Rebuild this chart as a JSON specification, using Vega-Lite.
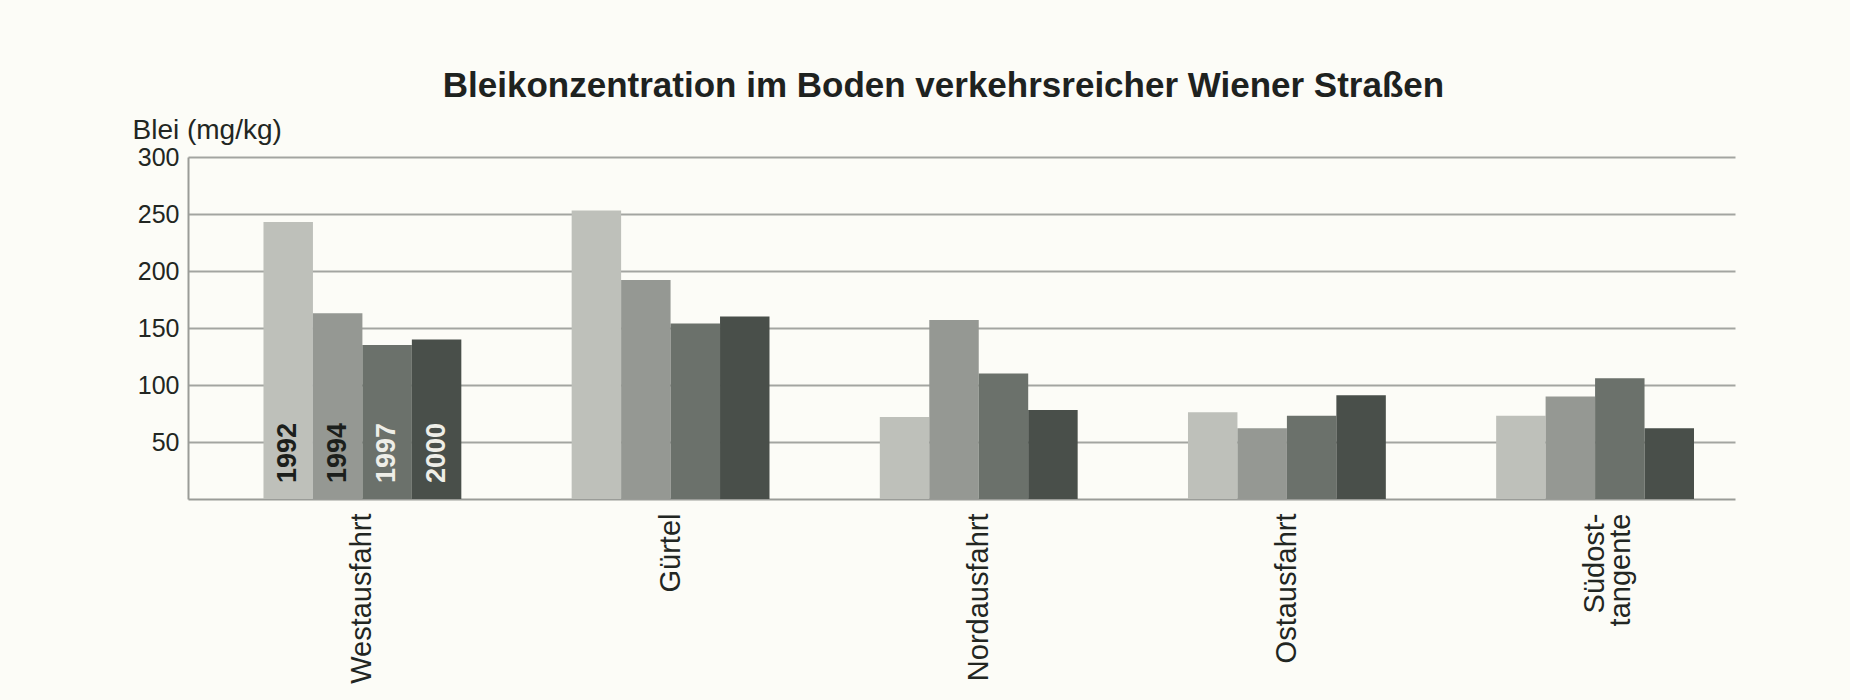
{
  "$schema": "https://vega.github.io/schema/vega-lite/v6.json",
  "width": 1547,
  "height": 342,
  "autosize": {"type": "none"},
  "padding": {"left": 188, "top": 157, "right": 115, "bottom": 201},
  "background": "#fcfcf7",
  "title": {
    "text": "Bleikonzentration im Boden verkehrsreicher Wiener Straßen",
    "font": "Liberation Sans",
    "fontSize": 35,
    "fontWeight": "bold",
    "color": "#1e221f",
    "anchor": "middle",
    "frame": "group",
    "dx": -18,
    "offset": 12
  },
  "data": {
    "values": [
      {"street": "Westausfahrt", "year": "1992", "lead": 243},
      {"street": "Westausfahrt", "year": "1994", "lead": 163},
      {"street": "Westausfahrt", "year": "1997", "lead": 135},
      {"street": "Westausfahrt", "year": "2000", "lead": 140},
      {"street": "Gürtel", "year": "1992", "lead": 253},
      {"street": "Gürtel", "year": "1994", "lead": 192},
      {"street": "Gürtel", "year": "1997", "lead": 154},
      {"street": "Gürtel", "year": "2000", "lead": 160},
      {"street": "Nordausfahrt", "year": "1992", "lead": 72},
      {"street": "Nordausfahrt", "year": "1994", "lead": 157},
      {"street": "Nordausfahrt", "year": "1997", "lead": 110},
      {"street": "Nordausfahrt", "year": "2000", "lead": 78},
      {"street": "Ostausfahrt", "year": "1992", "lead": 76},
      {"street": "Ostausfahrt", "year": "1994", "lead": 62},
      {"street": "Ostausfahrt", "year": "1997", "lead": 73},
      {"street": "Ostausfahrt", "year": "2000", "lead": 91},
      {"street": "Südost-\ntangente", "year": "1992", "lead": 73},
      {"street": "Südost-\ntangente", "year": "1994", "lead": 90},
      {"street": "Südost-\ntangente", "year": "1997", "lead": 106},
      {"street": "Südost-\ntangente", "year": "2000", "lead": 62}
    ]
  },
  "encoding": {
    "x": {
      "field": "street",
      "type": "nominal",
      "sort": null,
      "scale": {"paddingInner": 0.358, "paddingOuter": 0.189, "align": 0.648},
      "axis": {
        "title": null,
        "labelAngle": -90,
        "labelFont": "Liberation Sans",
        "labelFontSize": 29,
        "labelColor": "#222622",
        "labelPadding": 14,
        "labelLineHeight": 26,
        "labelExpr": "split(datum.label, '\\n')",
        "ticks": false,
        "domainColor": "#9a9c98",
        "domainWidth": 2,
        "labelOverlap": false
      }
    },
    "xOffset": {"field": "year", "type": "nominal", "scale": {"paddingInner": 0, "paddingOuter": 0}},
    "y": {
      "field": "lead",
      "type": "quantitative",
      "scale": {"domain": [0, 300], "nice": false},
      "axis": {
        "values": [50, 100, 150, 200, 250, 300],
        "title": "Blei (mg/kg)",
        "titleAngle": 0,
        "titleX": -56,
        "titleY": -19,
        "titleAlign": "left",
        "titleBaseline": "alphabetic",
        "titleFont": "Liberation Sans",
        "titleFontSize": 28,
        "titleFontWeight": "normal",
        "titleColor": "#222622",
        "labelFont": "Liberation Sans",
        "labelFontSize": 25,
        "labelColor": "#222622",
        "labelPadding": 9,
        "ticks": false,
        "gridColor": "#a3a5a1",
        "gridWidth": 2,
        "gridOpacity": 1,
        "domainColor": "#9a9c98",
        "domainWidth": 2
      }
    }
  },
  "layer": [
    {
      "mark": {"type": "bar"},
      "encoding": {
        "color": {
          "field": "year",
          "type": "nominal",
          "scale": {"domain": ["1992", "1994", "1997", "2000"], "range": ["#bec0ba", "#959893", "#6b716b", "#494f4a"]},
          "legend": null
        }
      }
    },
    {
      "transform": [{"filter": "datum.street == 'Westausfahrt'"}],
      "mark": {"type": "text", "angle": 270, "align": "left", "baseline": "middle", "dx": 16, "font": "Liberation Sans", "fontSize": 27, "fontWeight": "bold"},
      "encoding": {
        "y": {"datum": 0},
        "text": {"field": "year"},
        "color": {"condition": {"test": "datum.year >= '1997'", "value": "#eeeee8"}, "value": "#1c1f1c"}
      }
    }
  ],
  "config": {"view": {"stroke": null}}
}
